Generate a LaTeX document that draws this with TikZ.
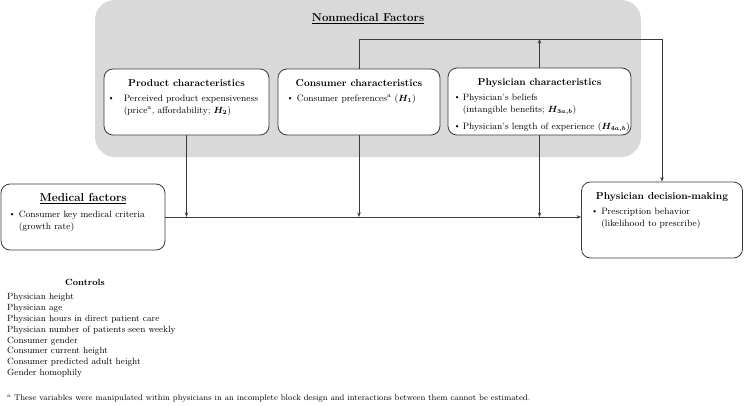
\documentclass[tikz,border=0pt]{standalone}
\usepackage{xcolor}
\usepackage{tikz}
\usepackage{amsmath,amssymb,bm}
\usetikzlibrary{arrows.meta, positioning, calc, backgrounds}
\definecolor{panelgray}{HTML}{D9D9D9}
\definecolor{inkgray}{HTML}{3A3A3A}
\newcommand{\blt}[1][10pt]{\makebox[#1][l]{\raisebox{0.2ex}{\footnotesize\textbullet}}}
\newcommand{\hyp}[1]{$\bm{H_{#1}}$}

\begin{document}
\begin{tikzpicture}[x=1pt, y=-1pt,
  factorbox/.style={draw=inkgray, line width=0.8pt, rounded corners=9pt, fill=white, inner sep=0pt},
  boxtitle/.style={font=\bfseries, inner sep=0pt},
  boxtext/.style={align=left, inner sep=0pt, font=\fontsize{9.2}{12}\selectfont},
  link/.style={draw=inkgray, line width=0.8pt, -{Stealth[length=4.5pt,width=3.5pt]}}]
  \useasboundingbox (0,0) rectangle (746,405);

  % Nonmedical panel
  \node[fill=panelgray, rounded corners=20pt, minimum width=546pt, minimum height=157pt, inner sep=0pt] (panel) at (368,78.5) {};
  \node[font=\fontsize{11.5}{13}\selectfont\bfseries] (paneltitle) at (368,19) {\underline{Nonmedical Factors}};

  % Product characteristics
  \node[factorbox, minimum width=165pt, minimum height=66pt] (product) at (186.5,102) {};
  \node[boxtitle, below=10.5pt of product.north] (producttitle) {Product characteristics};
  \node[boxtext, below right=26pt and 4pt of product.north west] (producttext)
    {\blt[16pt]Perceived product expensiveness\\\hspace*{16pt}(price\textsuperscript{a}, affordability; \hyp{2})};

  % Consumer characteristics
  \node[factorbox, minimum width=162pt, minimum height=66pt] (consumer) at (359,102) {};
  \node[boxtitle, below=10.5pt of consumer.north] (consumertitle) {Consumer characteristics};
  \node[boxtext, below right=26pt and 9pt of consumer.north west] (consumertext)
    {\blt Consumer preferences\textsuperscript{a} (\hyp{1})};

  % Physician characteristics
  \node[factorbox, minimum width=183pt, minimum height=67pt] (physician) at (539.5,101.5) {};
  \node[boxtitle, below=10.5pt of physician.north] (physiciantitle) {Physician characteristics};
  \node[boxtext, below right=26pt and 6pt of physician.north west] (physiciantext)
    {\blt[9pt]Physician's beliefs\\\hspace*{9pt}(intangible benefits; \hyp{3a,b})\\[5pt]
     \blt[9pt]Physician's length of experience (\hyp{4a,b})};

  % Medical factors
  \node[factorbox, minimum width=164pt, minimum height=66pt] (medical) at (83,217) {};
  \node[boxtitle, font=\fontsize{11.5}{13}\selectfont\bfseries, below=10pt of medical.north] (medicaltitle) {\underline{Medical factors}};
  \node[boxtext, below right=27pt and 8pt of medical.north west] (medicaltext)
    {\blt Consumer key medical criteria\\\hspace*{10pt}(growth rate)};

  % Physician decision-making
  \node[factorbox, minimum width=161pt, minimum height=76pt] (decision) at (662,220) {};
  \node[boxtitle, below=10.5pt of decision.north] (decisiontitle) {Physician decision-making};
  \node[boxtext, below right=26pt and 10pt of decision.north west] (decisiontext)
    {\blt Prescription behavior\\\hspace*{10pt}(likelihood to prescribe)};

  % Connections
  \coordinate (rail) at (0,39);
  \draw[link] (medical.east) -- (medical.east -| decision.west);
  \draw[link] (product.south) -- (product.south |- medical.east);
  \draw[link] (consumer.south) -- (consumer.south |- medical.east);
  \draw[link] (physician.south) -- (physician.south |- medical.east);
  \draw[link] (consumer.north) -- (consumer.north |- rail) -| (decision.north);
  \draw[link] (physician.north) -- (physician.north |- rail);

  % Controls
  \node[font=\fontsize{9}{11}\selectfont\bfseries] (ctrltitle) at (85,282) {Controls};
  \node[anchor=north west, align=left, inner sep=0pt, font=\fontsize{9}{10.9}\selectfont] (ctrllist) at (7,293)
    {Physician height\\Physician age\\Physician hours in direct patient care\\Physician number of patients seen weekly\\
     Consumer gender\\Consumer current height\\Consumer predicted adult height\\Gender homophily};
  \node[anchor=west, inner sep=0pt, font=\fontsize{8.2}{10}\selectfont] (note) at (7,398)
    {\textsuperscript{a} These variables were manipulated within physicians in an incomplete block design and interactions between them cannot be estimated.};
\end{tikzpicture}
\end{document}
